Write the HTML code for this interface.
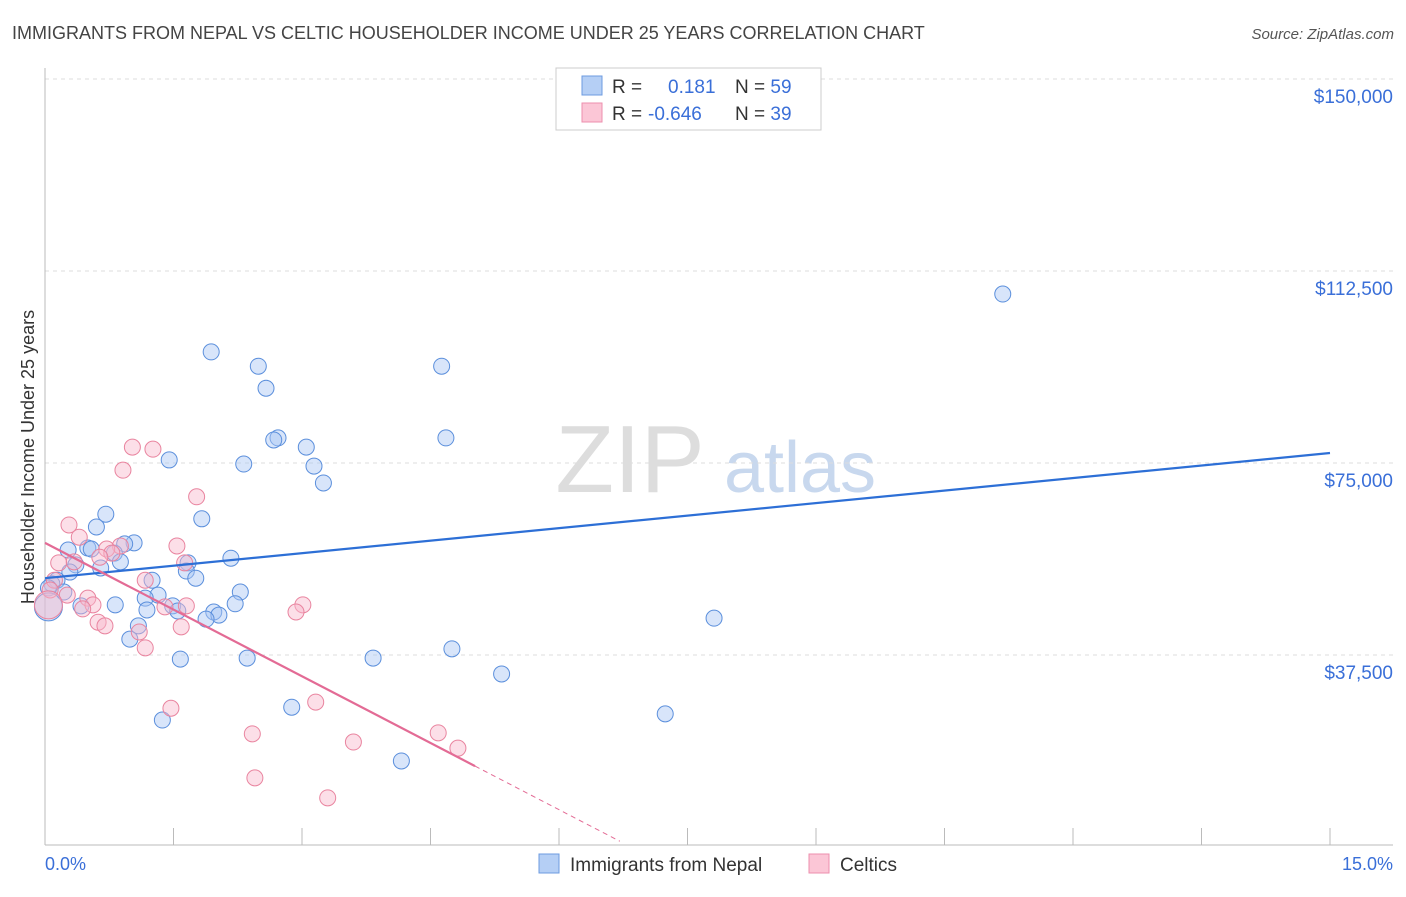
<!DOCTYPE html>
<html><head><meta charset="utf-8"><style>
body{margin:0;background:#fff;font-family:"Liberation Sans",sans-serif}
svg text{font-family:"Liberation Sans",sans-serif}
</style></head><body>
<svg id="chart" width="1406" height="892">
<text x="12" y="39" font-size="18" fill="#444">IMMIGRANTS FROM NEPAL VS CELTIC HOUSEHOLDER INCOME UNDER 25 YEARS CORRELATION CHART</text>
<text x="1394" y="39" font-size="15" fill="#555" font-style="italic" text-anchor="end">Source: ZipAtlas.com</text>
<text x="630" y="492" font-size="96" fill="#ddd" font-family="Liberation Serif" text-anchor="middle">ZIP</text>
<text x="800" y="492" font-size="72" fill="#c8d8ee" text-anchor="middle">atlas</text>
<g id="grid"></g>
<g id="axes"></g>
<g id="pts"></g>
<g id="lines"></g>
<text transform="translate(34,457) rotate(-90)" font-size="18" fill="#333" text-anchor="middle">Householder Income Under 25 years</text>
<text x="45" y="870" font-size="18" fill="#3a6fd8">0.0%</text>
<text x="1393" y="870" font-size="18" fill="#3a6fd8" text-anchor="end">15.0%</text>
<g>
<rect x="556" y="68" width="265" height="62" fill="#fff" stroke="#ccc"/>
<rect x="582" y="76" width="20" height="19" fill="#b5cff5" stroke="#6d9be0"/>
<rect x="582" y="103" width="20" height="19" fill="#fbc6d6" stroke="#ec8fae"/>
<text x="612" y="93" font-size="19" fill="#333">R = <tspan fill="#3a6fd8" x="668">0.181</tspan><tspan x="735" fill="#333">N = </tspan><tspan fill="#3a6fd8">59</tspan></text>
<text x="612" y="120" font-size="19" fill="#333">R = <tspan fill="#3a6fd8" x="648">-0.646</tspan><tspan x="735" fill="#333">N = </tspan><tspan fill="#3a6fd8">39</tspan></text>
</g>
<g>
<rect x="539" y="854" width="20" height="19" fill="#b5cff5" stroke="#6d9be0"/>
<text x="570" y="871" font-size="19" fill="#333">Immigrants from Nepal</text>
<rect x="809" y="854" width="20" height="19" fill="#fbc6d6" stroke="#ec8fae"/>
<text x="840" y="871" font-size="19" fill="#333">Celtics</text>
</g>
</svg>
<script>
const yTicks=[37500,75000,112500,150000];
const yTickLabels=["$37,500","$75,000","$112,500","$150,000"];
const xTicks=[0,1.5,3,4.5,6,7.5,9,10.5,12,13.5,15];
const nepalX=[11.18,1.94,2.49,4.63,2.58,2.72,2.67,3.05,4.68,1.45,2.32,3.14,3.25,1.83,0.71,0.60,1.04,0.93,0.27,0.50,0.54,0.81,0.88,0.36,0.65,0.29,2.17,1.67,1.65,1.76,1.25,0.14,0.08,0.04,0.22,1.32,2.28,1.17,2.22,1.49,1.55,1.19,0.82,0.42,1.97,2.03,1.88,7.81,1.09,0.99,1.58,2.36,3.83,4.75,5.33,2.88,7.24,1.37,4.16,0.04];
const nepalY=[108000,96700,93900,93900,89600,79900,79500,78100,79900,75600,74800,74400,71100,64100,65000,62500,59400,59200,58000,58400,58200,57400,55700,55100,54500,53700,56400,55500,53900,52500,52100,52100,51400,50600,49800,49200,49800,48600,47500,47100,46100,46300,47300,47100,45900,45300,44500,44700,43200,40600,36700,36900,36900,38700,33800,27300,26000,24800,16800,46900];
const celticX=[1.02,1.26,0.91,1.77,0.28,0.40,1.54,0.88,0.72,0.78,0.64,0.34,0.16,1.63,1.17,0.11,0.06,0.26,0.50,0.56,0.44,1.65,3.01,2.93,1.40,0.62,0.70,1.59,1.10,1.17,1.47,3.16,2.42,3.60,4.59,4.82,2.45,3.30,0.04];
const celticY=[78100,77700,73600,68400,62900,60500,58800,58800,58200,57400,56600,55700,55500,55500,52100,52100,50200,49200,48600,47300,46500,47100,47300,45900,46900,43900,43200,43000,42000,38900,27100,28300,22100,20500,22300,19300,13500,9600,47300];
const nepalTrend=[52500,76950]; // y at x=0 and x=15
const celticTrend=[59400,-8685]; // intercept, slope per %
const celticSolidEnd=[5.02];
const celticDashEnd=[6.71];
const NS="http://www.w3.org/2000/svg";
const X=v=>45+v/15*1285;
const Y=v=>847-v/37500*192;
function mk(tag,attrs,parent){const e=document.createElementNS(NS,tag);for(const k in attrs)e.setAttribute(k,attrs[k]);parent.appendChild(e);return e;}
const grid=document.getElementById('grid'),axes=document.getElementById('axes'),pts=document.getElementById('pts'),lines=document.getElementById('lines');
yTicks.forEach((t,i)=>{
 const l=mk('line',{x1:45,x2:1393,y1:Y(t),y2:Y(t),stroke:'#ddd','stroke-dasharray':'4,4'},grid);
 
 
 const tx=mk('text',{x:1393,y:Y(t)+24,'font-size':19,fill:'#3a6fd8','text-anchor':'end'},grid);
 tx.textContent=yTickLabels[i];
 
 
});
const ya=mk('line',{x1:45,x2:45,y1:68,y2:845,stroke:'#bbb'},axes);


const xa=mk('line',{x1:45,x2:1393,y1:845,y2:845,stroke:'#bbb'},axes);


xTicks.forEach(t=>{
 const l=mk('line',{x1:X(t),x2:X(t),y1:828,y2:845,stroke:'#bbb'},axes);
 
 
});
function dots(xs,ys,fill,stroke,name){
 xs.forEach((x,i)=>{
  const big=i===xs.length-1;
  const c=mk('circle',{cx:X(x),cy:Y(ys[i]),r:big?14:8,fill:fill,'fill-opacity':0.45,stroke:stroke,'stroke-width':1},pts);
  
  
 });
}
dots(nepalX,nepalY,'#a9c6f3','#5b8fdc','nepal-point');
dots(celticX,celticY,'#f8b7cb','#e9849f','celtic-point');
const bl=mk('line',{x1:X(0),y1:Y(nepalTrend[0]),x2:X(15),y2:Y(nepalTrend[1]),stroke:'#2d6fd6','stroke-width':2.2},lines);


const cy=x=>celticTrend[0]+celticTrend[1]*x;
const pl=mk('line',{x1:X(0),y1:Y(cy(0)),x2:X(celticSolidEnd[0]),y2:Y(cy(celticSolidEnd[0])),stroke:'#e36b95','stroke-width':2.2},lines);


const pd=mk('line',{x1:X(celticSolidEnd[0]),y1:Y(cy(celticSolidEnd[0])),x2:X(celticDashEnd[0]),y2:Y(cy(celticDashEnd[0])),stroke:'#e36b95','stroke-width':1,'stroke-dasharray':'5,4'},lines);


</script>
</body></html>
